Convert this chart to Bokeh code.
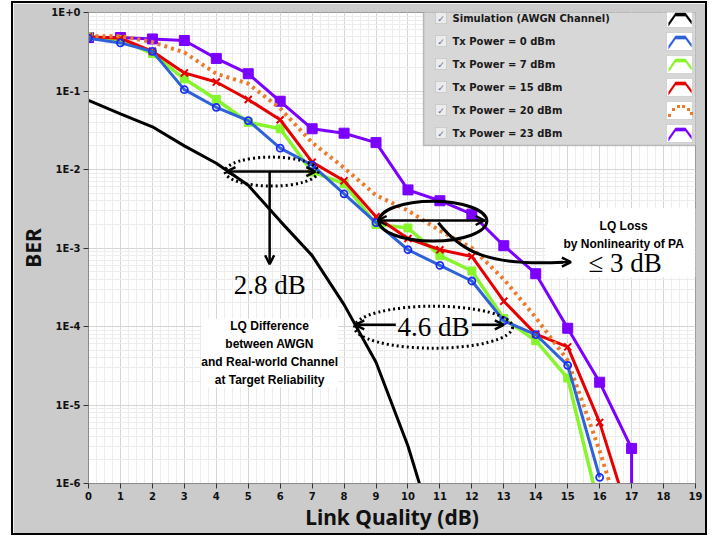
from bokeh.plotting import figure
from bokeh.models import (FixedTicker, Label, Arrow, OpenHead, BoxAnnotation,
                          PolyAnnotation, Range1d)
from bokeh.embed import file_html
from bokeh.resources import INLINE

# ---------------- data ----------------
awgn_x = [0, 1, 2, 3, 4, 5, 6, 7, 8, 9, 10, 11]
awgn_ber = [7.6e-2, 5.1e-2, 3.5e-2, 2.0e-2, 1.2e-2, 6.3e-3, 2.2e-3, 8.0e-4,
            1.9e-4, 3.5e-5, 3.0e-6, 1.4e-7]

p0_x = list(range(0, 17))
p0_ber = [0.47, 0.41, 0.32, 0.104, 0.062, 0.042, 0.0187, 0.0114, 0.0049, 0.0021,
          0.00095, 0.0006, 0.00038, 0.000118, 7.9e-5, 3.2e-5, 1.2e-6]

p7_x = list(range(0, 17))
p7_ber = [0.49, 0.45, 0.30, 0.143, 0.078, 0.040, 0.033, 0.0093, 0.0066, 0.0020,
          0.0018, 0.0008, 0.00051, 0.000126, 6.6e-5, 2.2e-5, 4.6e-7]

p15_x = list(range(0, 18))
p15_ber = [0.49, 0.47, 0.32, 0.17, 0.13, 0.078, 0.043, 0.0124, 0.0072, 0.0025,
           0.00132, 0.00095, 0.00078, 0.00021, 8.0e-5, 5.5e-5, 6.0e-6, 3.0e-7]

p20_x = list(range(0, 18))
p20_ber = [0.50, 0.50, 0.42, 0.31, 0.166, 0.124, 0.060, 0.022, 0.0105, 0.0047,
           0.0030, 0.00166, 0.0010, 0.0004, 0.00013, 3.7e-5, 2.6e-6, 1.3e-7]

p23_x = list(range(0, 18)) + [17]
p23_ber = [0.48, 0.48, 0.46, 0.44, 0.26, 0.166, 0.074, 0.033, 0.029, 0.022,
           0.0055, 0.0040, 0.0027, 0.00107, 0.00047, 9.5e-5, 1.95e-5, 2.8e-6, 1.0e-7]

legend_labels = ["Simulation (AWGN Channel)", "Tx Power = 0 dBm", "Tx Power = 7 dBm",
                 "Tx Power = 15 dBm", "Tx Power = 20 dBm", "Tx Power = 23 dBm"]
x_ticks = list(range(0, 20))
y_ticks = [1.0, 1e-1, 1e-2, 1e-3, 1e-4, 1e-5, 1e-6]
y_tick_labels = ["1E+0", "1E-1", "1E-2", "1E-3", "1E-4", "1E-5", "1E-6"]

BLACK = "#000000"
BLUE = "#2e62d9"
BLUE_M = "#1d2cf5"
GREEN = "#86f52c"
RED = "#e60000"
ORANGE = "#ec7a2c"
PURPLE = "#7b00ff"
GRAY_BG = "#cbcbcb"

SANS = "Noto Sans"
SERIF = "Liberation Serif"

# page geometry (window pixels)
BOX_L, BOX_T, BOX_R, BOX_B = 13, 3, 705, 533     # grey panel with black outline
FL, FR, FT, FB = 88, 695, 12, 483                 # plotting area


def sx(px):
    return px - FL


def sy(py):
    return FB - py


p = figure(width=BOX_R - BOX_L, height=BOX_B - BOX_T, output_backend="svg",
           toolbar_location=None, y_axis_type="log",
           x_range=Range1d(0, 19), y_range=Range1d(1e-6, 1),
           min_border_left=FL - BOX_L, min_border_right=BOX_R - FR,
           min_border_top=FT - BOX_T, min_border_bottom=BOX_B - FB)
p.margin = (BOX_T, 0, 0, BOX_L)
p.styles = {"outline": "2px solid #000000", "outline-offset": "0px"}
p.border_fill_color = GRAY_BG
p.background_fill_color = "white"
p.outline_line_color = "#9a9a9a"

# axes
p.xaxis.ticker = FixedTicker(ticks=x_ticks,
                             minor_ticks=[i * 0.25 for i in range(0, 77)])
p.yaxis.ticker = FixedTicker(ticks=y_ticks,
                             minor_ticks=[m * 10.0 ** e for e in range(-6, 0) for m in range(2, 10)])
p.yaxis.major_label_overrides = {t: l for t, l in zip(y_ticks, y_tick_labels)}
for ax in (p.xaxis, p.yaxis):
    ax.major_label_text_font = "DejaVu Sans"
    ax.major_label_text_font_style = "bold"
    ax.major_label_text_font_size = "10px"
    ax.major_label_text_color = "#111111"
    ax.axis_line_color = "#8a8a8a"
    ax.major_tick_line_color = "#333333"
    ax.major_tick_out = 5
    ax.major_tick_in = 0
    ax.minor_tick_line_color = None
    ax.major_label_standoff = 3
    ax.axis_label_text_font = SANS
    ax.axis_label_text_font_style = "bold"
    ax.axis_label_text_font_size = "21px"
    ax.axis_label_text_color = "#111111"
p.yaxis.axis_label = "BER"
p.yaxis.axis_label_standoff = 1
p.xaxis.axis_label = "Link Quality (dB)"
p.xaxis.axis_label_standoff = 0
p.xaxis.major_label_standoff = 3

for g in (p.xgrid, p.ygrid):
    g.grid_line_color = "#d6d6d6"
    g.grid_line_width = 1
    g.minor_grid_line_color = "#ededed"

# ---------------- series ----------------
p.line(awgn_x, awgn_ber, line_color=BLACK, line_width=3)

p.line(p23_x, p23_ber, line_color=PURPLE, line_width=3)
p.scatter(p23_x, p23_ber, marker="square", size=10, fill_color=PURPLE, line_color=PURPLE)

p.line(p7_x, p7_ber, line_color=GREEN, line_width=3.5)
p.scatter(p7_x, p7_ber, marker="square", size=8, fill_color=GREEN, line_color=GREEN)

p.line(p15_x, p15_ber, line_color=RED, line_width=3)
p.scatter(p15_x, p15_ber, marker="x", size=10, line_color=RED, line_width=2)

p.line(p20_x, p20_ber, line_color=ORANGE, line_width=4, line_dash="3 4")

p.line(p0_x, p0_ber, line_color=BLUE, line_width=3)
p.scatter(p0_x, p0_ber, marker="circle", size=7, fill_color=None, line_color=BLUE_M, line_width=1.8)

# ---------------- annotations ----------------
# 2.8 dB
p.ellipse(x=[5.73], y=[0.0094], width=93, height=29, width_units="screen",
          height_units="screen", fill_color=None, line_color="black", line_width=3,
          line_dash="2 3")
p.add_layout(Arrow(start=OpenHead(size=9, line_width=2.5), end=OpenHead(size=9, line_width=2.5),
                   x_start=4.32, y_start=0.0094, x_end=7.1, y_end=0.0094,
                   line_width=2.5, line_color="black"))
p.add_layout(Arrow(end=OpenHead(size=9, line_width=2.5), x_start=5.67, y_start=0.0094,
                   x_end=5.67, y_end=6.2e-4, line_width=2.5, line_color="black"))
p.add_layout(Label(x=5.67, y=3.4e-4, text="2.8 dB", text_align="center",
                   text_baseline="middle", text_font=SERIF, text_font_size="27px",
                   text_color="black"))
p.add_layout(Label(x=5.67, y=4.6e-5,
                   text="LQ Difference\nbetween AWGN\nand Real-world Channel\nat Target Reliability",
                   text_align="center", text_baseline="middle", text_font="Liberation Sans",
                   text_font_style="bold", text_font_size="12px", text_line_height=1.3,
                   background_fill_color="white", text_color="black"))

# 4.6 dB
p.ellipse(x=[10.8], y=[9.8e-5], width=158, height=42, width_units="screen",
          height_units="screen", fill_color=None, line_color="black", line_width=3,
          line_dash="2 3")
p.add_layout(Arrow(end=OpenHead(size=9, line_width=2.5), x_start=9.62, y_start=1.05e-4,
                   x_end=8.35, y_end=1.05e-4, line_width=2.5, line_color="black"))
p.add_layout(Arrow(end=OpenHead(size=9, line_width=2.5), x_start=12.0, y_start=1.05e-4,
                   x_end=13.0, y_end=1.05e-4, line_width=2.5, line_color="black"))
p.add_layout(Label(x=10.8, y=9.8e-5, text="4.6 dB", text_align="center",
                   text_baseline="middle", text_font=SERIF, text_font_size="27px",
                   text_color="black"))

# LQ loss
p.add_layout(BoxAnnotation(left=14.3, right=19.0, top=3.2e-3, bottom=4.2e-4,
                           fill_color="white", fill_alpha=1.0, line_color=None,
                           level="underlay"))
p.ellipse(x=[10.78], y=[0.0022], width=108, height=40, width_units="screen",
          height_units="screen", fill_color=None, line_color="black", line_width=3)
p.add_layout(Arrow(start=OpenHead(size=9, line_width=2.5), end=OpenHead(size=9, line_width=2.5),
                   x_start=9.05, y_start=0.00224, x_end=12.4, y_end=0.00224,
                   line_width=2.5, line_color="black"))
p.bezier(x0=[10.95], y0=[0.0021], x1=[14.85], y1=[6.6e-4], cx0=[11.7], cy0=[8.5e-4],
         cx1=[12.6], cy1=[5.9e-4], line_color="black", line_width=3)
p.add_layout(Arrow(end=OpenHead(size=9, line_width=2.5), x_start=14.7, y_start=6.6e-4,
                   x_end=15.1, y_end=6.6e-4, line_width=2.5, line_color="black"))
p.add_layout(Label(x=16.75, y=1.45e-3, text="LQ Loss\nby Nonlinearity of PA",
                   text_align="center", text_baseline="middle", text_font="Liberation Sans",
                   text_font_style="bold", text_font_size="12px", text_line_height=1.3,
                   text_color="black"))
p.add_layout(Label(x=16.8, y=6.4e-4, text="\u2264 3 dB", text_align="center",
                   text_baseline="middle", text_font=SERIF, text_font_size="27px",
                   text_color="black"))

# ---------------- legend ----------------
LG_L, LG_R, LG_T, LG_B = 423, 703, 5, 145
p.add_layout(BoxAnnotation(left=sx(LG_L), right=sx(LG_R), top=sy(LG_T), bottom=sy(LG_B),
                           left_units="screen", right_units="screen",
                           top_units="screen", bottom_units="screen",
                           fill_color="#d7d7d7", fill_alpha=1.0, line_color="#555555",
                           line_width=1.5, level="overlay"))
row_y = [18, 41, 64, 87, 110, 133]
swatch_colors = [BLACK, BLUE, GREEN, RED, ORANGE, PURPLE]


def thick_poly(points, t):
    upper = [(x, y - t / 2) for x, y in points]
    lower = [(x, y + t / 2) for x, y in reversed(points)]
    pts = upper + lower
    return [sx(x) for x, _ in pts], [sy(y) for _, y in pts]


for ry, lab, col in zip(row_y, legend_labels, swatch_colors):
    # checkbox
    p.add_layout(BoxAnnotation(left=sx(435), right=sx(446), top=sy(ry - 6), bottom=sy(ry + 5),
                               left_units="screen", right_units="screen",
                               top_units="screen", bottom_units="screen",
                               fill_color="#ececec", fill_alpha=1.0, line_color="#9a9a9a",
                               line_width=1, level="overlay"))
    p.add_layout(Label(x=sx(440.5), y=sy(ry), x_units="screen", y_units="screen",
                       text="\u2713", text_align="center", text_baseline="middle",
                       text_font="DejaVu Sans", text_font_size="9px", text_color="#5a6f9a",
                       level="overlay"))
    p.add_layout(Label(x=sx(452), y=sy(ry), x_units="screen", y_units="screen",
                       text=lab, text_align="left", text_baseline="middle",
                       text_font="DejaVu Sans", text_font_style="bold",
                       text_font_size="10px", text_color="#1a1a1a", level="overlay"))
    # swatch
    p.add_layout(BoxAnnotation(left=sx(666), right=sx(692), top=sy(ry - 9), bottom=sy(ry + 9),
                               left_units="screen", right_units="screen",
                               top_units="screen", bottom_units="screen",
                               fill_color="white", fill_alpha=1.0, line_color="#9a9a9a",
                               line_width=1, level="overlay"))
    chev = [(668, ry + 6), (675, ry - 4), (685, ry - 4), (691, ry + 4)]
    if col == ORANGE:
        for cx, cy in [(669, ry + 5), (673, ry - 1), (678, ry - 4), (683, ry - 4),
                       (688, ry - 1), (691, ry + 3)]:
            xs, ys = thick_poly([(cx - 1.5, cy), (cx + 1.5, cy)], 3)
            p.add_layout(PolyAnnotation(xs=xs, ys=ys, xs_units="screen", ys_units="screen",
                                        fill_color=col, fill_alpha=1.0, line_color=None,
                                        level="overlay"))
    else:
        xs, ys = thick_poly(chev, 3.5)
        p.add_layout(PolyAnnotation(xs=xs, ys=ys, xs_units="screen", ys_units="screen",
                                    fill_color=col, fill_alpha=1.0, line_color=col,
                                    line_width=0.5, level="overlay"))

open("out.html", "w").write(file_html(p, INLINE))
